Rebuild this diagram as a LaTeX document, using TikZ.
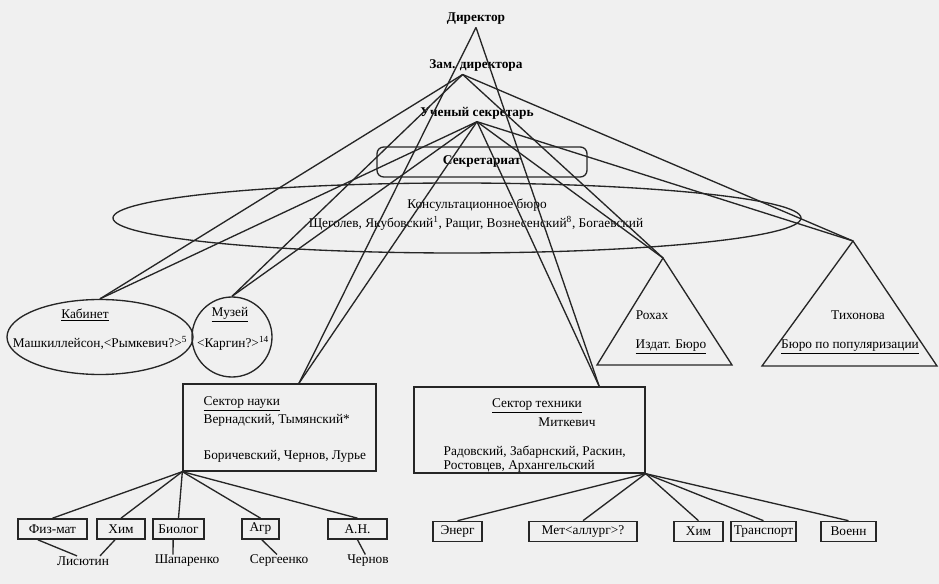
\documentclass[tikz,border=0pt]{standalone}
\usepackage{fontspec}
\setmainfont{Liberation Serif}
\usetikzlibrary{shapes.geometric,calc}
\begin{document}
\begin{tikzpicture}[x=0.75pt,y=-0.75pt,line width=1pt,draw=black!85,
    every node/.style={font=\fontsize{10}{11}\selectfont,inner sep=0pt},
    head/.style={font=\bfseries\fontsize{10}{11}\selectfont,inner sep=1.5pt},
    unit/.style={draw,line width=1.2pt,minimum height=15pt}]
  \fill[black!6] (0,0) rectangle (939,584);
  \useasboundingbox (0,0) rectangle (939,584);
  \node[head] (D) at (476,19) {Директор};
  \node[head] (Z) at (476,66) {Зам. директора};
  \node[head] (U) at (477,113) {Ученый секретарь};
  \node[draw,rounded corners=5pt,minimum width=157.5pt,minimum height=22.5pt,font=\bfseries\fontsize{10}{11}\selectfont] (S) at (482,162) {Секретариат};
  \node[draw,ellipse,minimum width=516pt,minimum height=52.5pt] (KB) at (457,218) {};
  \node (KBa) at (477,205) {Консультационное бюро};
  \node (KBb) at (476,223) {Щеголев, Якубовский\textsuperscript{1}, Ращиг, Вознесенский\textsuperscript{8}, Богаевский};
  \node[draw,ellipse,minimum width=139.5pt,minimum height=56.25pt] (K) at (100,337) {};
  \node (Ka) at (85,315) {\underline{Кабинет}};
  \node (Kb) at (100,343) {Машкиллейсон,<Рымкевич?>\textsuperscript{5}};
  \node[draw,circle,minimum size=60pt] (M) at (232,337) {};
  \node (Ma) at (230,315) {\underline{Музей}};
  \node (Mb) at (233,343) {<Каргин?>\textsuperscript{14}};
  \draw (663,258) coordinate (R) -- (732,365) -- (597,365) -- cycle;
  \node (Ra) at (652,315) {Рохах};
  \node (Rb) at (671,347) {\underline{Издат. Бюро}};
  \draw (853,241) coordinate (T) -- (937,366) -- (762,366) -- cycle;
  \node (Ta) at (858,315) {Тихонова};
  \node (Tb) at (850,347) {\underline{Бюро по популяризации}};
  \node[draw,minimum width=144.75pt,minimum height=65.25pt] (SN) at (279.5,427.5) {};
  \node[anchor=west] (SNa) at (203,404) {\underline{Сектор науки}};
  \node[anchor=west] (SNb) at (203,420) {Вернадский, Тымянский*};
  \node[anchor=west] (SNc) at (203,456) {Боричевский, Чернов, Лурье};
  \node[draw,minimum width=173.25pt,minimum height=64.5pt] (ST) at (529.5,430) {};
  \node (STa) at (537,406) {\underline{Сектор техники}};
  \node (STb) at (567,422) {Миткевич};
  \node[anchor=west] (STc) at (443,452) {Радовский, Забарнский, Раскин,};
  \node[anchor=west] (STd) at (443,466) {Ростовцев, Архангельский};
  \coordinate (SNt) at ($(SN.north west)!0.6!(SN.north east)$);
  \coordinate (STt) at ($(ST.north west)!0.8!(ST.north east)$);
  \coordinate (Zs) at ([xshift=-10pt]Z.south);
  \node[unit,minimum width=51.75pt] (A) at (52.5,529) {Физ-мат};
  \node[unit,minimum width=36pt] (B) at (121,529) {Хим};
  \node[unit,minimum width=38.25pt] (C) at (178.5,529) {Биолог};
  \node[unit,minimum width=27.75pt] (E) at (260.5,529) {Агр};
  \node[unit,minimum width=44.25pt] (F) at (357.5,529) {А.Н.};
  \node[unit,minimum width=36.75pt] (G) at (457.5,531.5) {Энерг};
  \node[unit,minimum width=81pt] (H) at (583,531.5) {Мет<аллург>?};
  \node[unit,minimum width=36.75pt] (I) at (698.5,531.5) {Хим};
  \node[unit,minimum width=49pt] (J) at (763.5,531.5) {Транспорт};
  \node[unit,minimum width=41.25pt] (L) at (848.5,531.5) {Военн};
  \node (Na) at (83,561) {Лисютин};
  \node (Nb) at (187,561) {Шапаренко};
  \node (Nc) at (279,561) {Сергеенко};
  \node (Nd) at (368,561) {Чернов};
  \draw (D.south) -- (SNt);
  \draw (D.south) -- (STt);
  \draw (Zs) -- (K.north);
  \draw (Zs) -- (M.north);
  \draw (Zs) -- (R);
  \draw (Zs) -- (T);
  \draw (U.south) -- (K.north);
  \draw (U.south) -- (M.north);
  \draw (U.south) -- (SNt);
  \draw (U.south) -- (STt);
  \draw (U.south) -- (R);
  \draw (U.south) -- (T);
  \draw (SN.south west) -- (A.north);
  \draw (SN.south west) -- (B.north);
  \draw (SN.south west) -- (C.north);
  \draw (SN.south west) -- (E.north);
  \draw (SN.south west) -- (F.north);
  \draw (ST.south east) -- (G.north);
  \draw (ST.south east) -- (H.north);
  \draw (ST.south east) -- (I.north);
  \draw (ST.south east) -- (J.north);
  \draw (ST.south east) -- (L.north);
  \draw ([xshift=-11pt]A.south) -- ([xshift=-4.5pt]Na.north);
  \draw ([xshift=-4.5pt]B.south) -- ([xshift=12.75pt]Na.north);
  \draw ([xshift=-4pt]C.south) -- ([xshift=-10.5pt]Nb.north);
  \draw ([xshift=1pt]E.south) -- ([xshift=-1.5pt]Nc.north);
  \draw (F.south) -- ([xshift=-2pt]Nd.north);
\end{tikzpicture}
\end{document}
